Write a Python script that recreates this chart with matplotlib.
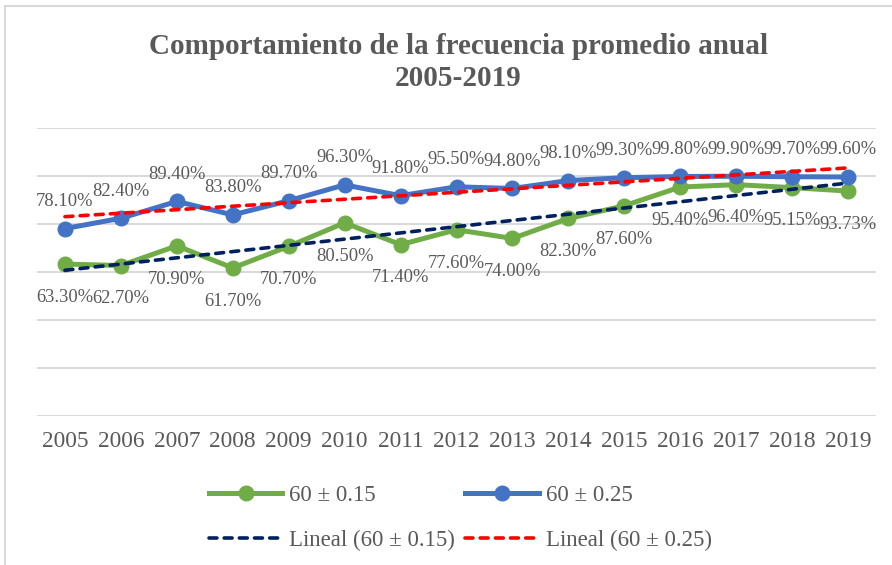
import matplotlib
matplotlib.use("Agg")
import matplotlib.pyplot as plt
from matplotlib.lines import Line2D
import numpy as np

# datos del gráfico
years = ["2005", "2006", "2007", "2008", "2009", "2010", "2011", "2012",
         "2013", "2014", "2015", "2016", "2017", "2018", "2019"]
freq_015 = [63.30, 62.70, 70.90, 61.70, 70.70, 80.50, 71.40, 77.60,
            74.00, 82.30, 87.60, 95.40, 96.40, 95.15, 93.73]
freq_025 = [78.10, 82.40, 89.40, 83.80, 89.70, 96.30, 91.80, 95.50,
            94.80, 98.10, 99.30, 99.80, 99.90, 99.70, 99.60]

GREEN = "#70AD47"
BLUE = "#4472C4"
NAVY = "#002060"
RED = "#FF0000"
TEXT = "#595959"
GRID = "#D9D9D9"
DASH = (0, (2.2, 2.0))

plt.rcParams["font.family"] = ["Liberation Serif", "DejaVu Serif"]

fig = plt.figure(figsize=(8.92, 5.65), dpi=100)
ax = fig.add_axes([37 / 892, 1 - 416 / 565, (876 - 37) / 892, (416 - 128) / 565])

x = np.arange(len(years))

# líneas de tendencia (lineal, como en Excel)
k1, b1 = np.polyfit(x, freq_015, 1)
k2, b2 = np.polyfit(x, freq_025, 1)

ax.plot(x, freq_015, color=GREEN, lw=3.6, marker="o", ms=10.5, zorder=3)
ax.plot(x, freq_025, color=BLUE, lw=3.6, marker="o", ms=10.5, zorder=3)
ax.plot(x, k1 * x + b1, color=NAVY, lw=2.6, ls=DASH, dash_capstyle="round", zorder=4)
ax.plot(x, k2 * x + b2, color=RED, lw=2.6, ls=DASH, dash_capstyle="round", zorder=4)

# etiquetas de datos
for xi, v in zip(x, freq_015):
    ax.annotate(f"{v:.2f}%", (xi, v), xytext=(0, -24), textcoords="offset points",
                ha="center", va="center", fontsize=13.3, color=TEXT, zorder=5)
for xi, v in zip(x, freq_025):
    ax.annotate(f"{v:.2f}%", (xi, v), xytext=(0, 19.5), textcoords="offset points",
                ha="center", va="center", fontsize=13.3, color=TEXT, zorder=5)

ax.set_xlim(-0.5, len(years) - 0.5)
ax.set_ylim(0, 120)
ax.set_yticks(np.arange(0, 121, 20))
ax.set_yticklabels([])
ax.set_xticks(x)
ax.set_xticklabels(years, fontsize=16.8, color=TEXT)
ax.tick_params(axis="both", length=0)
ax.tick_params(axis="x", pad=11)
ax.grid(axis="y", color=GRID, lw=1.4)
ax.set_axisbelow(True)
for s in ax.spines.values():
    s.set_visible(False)

fig.text(0.514, 1 - 62.5 / 565,
         "Comportamiento de la frecuencia promedio anual\n2005-2019",
         ha="center", va="center", fontsize=21, fontweight="bold",
         color=TEXT, linespacing=1.25)

handles = [
    Line2D([], [], color=GREEN, lw=3.6, marker="o", ms=10.5),
    Line2D([], [], color=NAVY, lw=2.6, ls=DASH, dash_capstyle="round"),
    Line2D([], [], color=BLUE, lw=3.6, marker="o", ms=10.5),
    Line2D([], [], color=RED, lw=2.6, ls=DASH, dash_capstyle="round"),
]
labels = ["60 ± 0.15", "Lineal (60 ± 0.15)", "60 ± 0.25", "Lineal (60 ± 0.25)"]
leg = fig.legend(handles, labels, loc="center", bbox_to_anchor=(0.516, 1 - 518 / 565),
                 ncol=2, frameon=False, fontsize=16.5, handlelength=3.2,
                 handletextpad=0.3, columnspacing=0.45, labelspacing=1.0)
for t in leg.get_texts():
    t.set_color(TEXT)

# borde del área del gráfico
fig.add_artist(Line2D([5 / 892, 5 / 892], [0, 1 - 6 / 565], color=GRID, lw=1.5,
                      transform=fig.transFigure))
fig.add_artist(Line2D([5 / 892, 1], [1 - 6 / 565, 1 - 6 / 565], color=GRID, lw=1.5,
                      transform=fig.transFigure))

fig.savefig("out.png", dpi=100)
